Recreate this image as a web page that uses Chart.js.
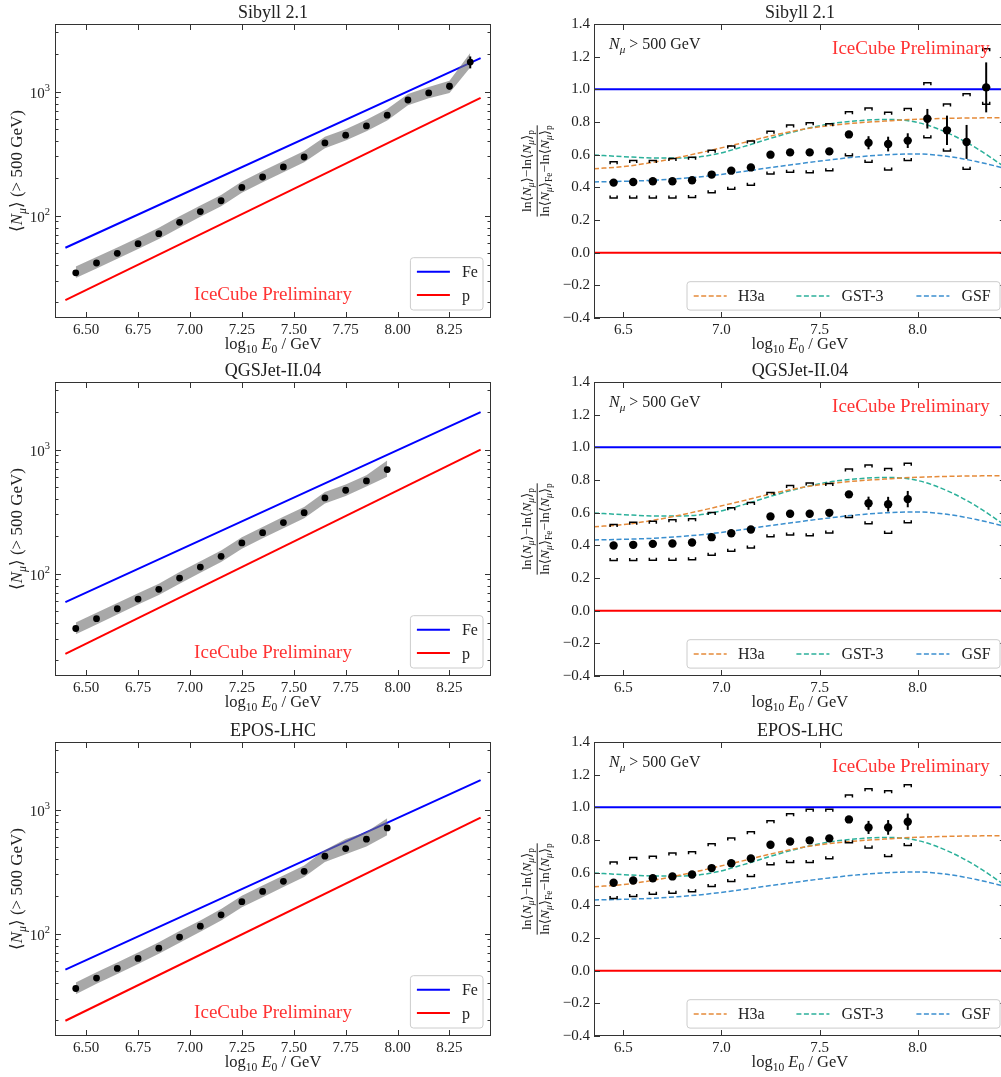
<!DOCTYPE html>
<html>
<head>
<meta charset="utf-8">
<script src="https://cdn.jsdelivr.net/npm/chart.js@4.4.1/dist/chart.umd.min.js"></script>
<style>
  html, body { margin: 0; padding: 0; background: #fff; overflow: hidden; width: 1001px; height: 1077px; }
  .cell { position: absolute; }
</style>
</head>
<body>
<div class="cell" style="left:0;top:0"><canvas id="sibyllLeft" width="500" height="359"></canvas></div>
<div class="cell" style="left:500px;top:0"><canvas id="sibyllRight" width="510" height="359"></canvas></div>
<div class="cell" style="left:0;top:358px"><canvas id="qgsLeft" width="500" height="359"></canvas></div>
<div class="cell" style="left:500px;top:358px"><canvas id="qgsRight" width="510" height="359"></canvas></div>
<div class="cell" style="left:0;top:718px"><canvas id="eposLeft" width="500" height="359"></canvas></div>
<div class="cell" style="left:500px;top:718px"><canvas id="eposRight" width="510" height="359"></canvas></div>
<script>
// energy bins (log10 E0 / GeV)
const energyBins = [6.45, 6.55, 6.65, 6.75, 6.85, 6.95, 7.05, 7.15, 7.25, 7.35, 7.45, 7.55, 7.65, 7.75, 7.85, 7.95, 8.05, 8.15, 8.25, 8.35];
const lineEnergy = [6.4, 8.4];

// left column: <N_mu> (> 500 GeV)
const sibyllNmu    = [34.7, 41.6, 49.8, 59.5, 71.6, 88.5, 108, 132, 169, 205, 247, 297, 386, 445, 529, 645, 855, 975, 1104, 1727];
const sibyllNmuErr = [0, 0, 0, 0, 0, 0, 0, 0, 0, 0, 0, 0, 0, 0, 0, 0, 0, 0, 70, 190];
const sibyllBandLo = [31.5, 37.5, 45, 54, 65, 80, 98, 119, 153, 186, 224, 270, 350, 404, 478, 584, 775, 885, 975, 1560];
const sibyllBandHi = [39, 46.5, 55.5, 66.5, 80, 99, 121, 147, 189, 229, 276, 332, 432, 497, 592, 722, 955, 1090, 1220, 2040];
const sibyllFe = [55.2, 1857];
const sibyllP  = [20.9, 889];

const qgsNmu    = [36.2, 43.4, 52.2, 62.5, 74.8, 92.3, 113, 138, 177, 214, 258, 310, 408, 470, 559, 690];
const qgsBandLo = [32.5, 39, 47, 56.5, 67.5, 83, 102, 124, 159, 193, 232, 280, 367, 423, 503, 605];
const qgsBandHi = [40.5, 48.5, 58, 69.5, 83, 103, 126, 154, 197, 238, 287, 345, 455, 524, 622, 815];
const qgsFe = [59.1, 2000];
const qgsP  = [22.6, 1000];

const eposNmu    = [36.2, 43.9, 52.5, 63.2, 76.5, 94, 115, 142, 181, 219, 264, 318, 421, 485, 577, 711];
const eposBandLo = [32.5, 39.5, 47.3, 57, 69, 84.5, 103.5, 128, 163, 197, 238, 286, 378, 437, 505, 620];
const eposBandHi = [40.5, 49, 58.5, 70.5, 85.5, 105, 128, 158, 202, 244, 294, 354, 472, 580, 660, 850];
const eposFe = [51.3, 1725];
const eposP  = [19.9, 861];

// right column: z = (ln<N> - ln<N>_p) / (ln<N>_Fe - ln<N>_p)
const sibyllZ     = [0.429, 0.433, 0.437, 0.437, 0.443, 0.478, 0.502, 0.522, 0.600, 0.614, 0.614, 0.620, 0.724, 0.673, 0.665, 0.686, 0.820, 0.749, 0.678, 1.012];
const sibyllZStat = [0.01, 0.01, 0.01, 0.01, 0.01, 0.01, 0.01, 0.01, 0.012, 0.012, 0.014, 0.016, 0.02, 0.04, 0.045, 0.045, 0.06, 0.09, 0.104, 0.153];
const sibyllSysHi = [0.557, 0.565, 0.565, 0.576, 0.584, 0.627, 0.653, 0.684, 0.743, 0.782, 0.796, 0.790, 0.863, 0.886, 0.859, 0.882, 1.041, 0.910, 0.973, 1.249];
const sibyllSysLo = [0.335, 0.335, 0.335, 0.335, 0.337, 0.367, 0.388, 0.412, 0.482, 0.492, 0.490, 0.502, 0.594, 0.553, 0.506, 0.565, 0.704, 0.622, 0.510, 0.908];

const qgsZ     = [0.399, 0.403, 0.409, 0.411, 0.417, 0.450, 0.474, 0.497, 0.577, 0.593, 0.593, 0.599, 0.712, 0.658, 0.652, 0.683];
const qgsZStat = [0.01, 0.01, 0.01, 0.01, 0.01, 0.01, 0.01, 0.01, 0.012, 0.012, 0.014, 0.016, 0.02, 0.04, 0.045, 0.05];
const qgsSysHi = [0.528, 0.542, 0.548, 0.556, 0.562, 0.601, 0.630, 0.663, 0.724, 0.767, 0.781, 0.779, 0.867, 0.892, 0.871, 0.902];
const qgsSysLo = [0.307, 0.307, 0.309, 0.309, 0.311, 0.339, 0.364, 0.384, 0.452, 0.464, 0.458, 0.476, 0.571, 0.532, 0.474, 0.538];

const eposZ     = [0.538, 0.552, 0.566, 0.577, 0.589, 0.628, 0.658, 0.687, 0.771, 0.791, 0.798, 0.810, 0.926, 0.877, 0.877, 0.912];
const eposZStat = [0.01, 0.01, 0.01, 0.01, 0.01, 0.01, 0.01, 0.01, 0.012, 0.012, 0.014, 0.016, 0.02, 0.04, 0.045, 0.05];
const eposSysHi = [0.665, 0.693, 0.701, 0.720, 0.728, 0.777, 0.812, 0.851, 0.918, 0.961, 0.988, 0.988, 1.075, 1.114, 1.102, 1.139];
const eposSysLo = [0.442, 0.454, 0.468, 0.474, 0.483, 0.515, 0.546, 0.577, 0.648, 0.663, 0.663, 0.685, 0.783, 0.751, 0.699, 0.767];

// composition model expectations
const modelEnergy = [6.35, 6.5, 6.65, 6.8, 6.95, 7.1, 7.25, 7.4, 7.55, 7.7, 7.85, 8.0, 8.15, 8.3, 8.45];
const h3a  = [0.514, 0.527, 0.553, 0.588, 0.628, 0.670, 0.714, 0.752, 0.778, 0.795, 0.807, 0.817, 0.822, 0.825, 0.826];
const gst3 = [0.598, 0.588, 0.580, 0.580, 0.598, 0.645, 0.700, 0.750, 0.788, 0.808, 0.816, 0.797, 0.735, 0.640, 0.520];
const gsf  = [0.433, 0.437, 0.443, 0.455, 0.472, 0.495, 0.521, 0.545, 0.568, 0.587, 0.600, 0.604, 0.590, 0.558, 0.515];
const feRef = 1.0;
const pRef = 0.0;

// axes
const leftXTicks = [6.5, 6.75, 7.0, 7.25, 7.5, 7.75, 8.0, 8.25];
const rightXTicks = [6.5, 7.0, 7.5, 8.0];
const rightYTicks = [-0.4, -0.2, 0, 0.2, 0.4, 0.6, 0.8, 1.0, 1.2, 1.4];
const logMajorTicks = [100, 1000];
const X_MIN = 6.35, X_MAX = 8.45;
const NMU_MIN = 15, NMU_MAX = 3500;

const FONT = '"Liberation Serif", "DejaVu Serif", serif';
const TXT = '#222';
const SPINE = '#333';
const RED_TEXT = '#ff3333';
const H3A_COLOR = '#e58b3a';
const GST_COLOR = '#2bb09a';
const GSF_COLOR = '#3b8fcf';

function pts(xs, ys) {
  return ys.map((v, i) => ({ x: xs[i], y: v }));
}

// tiny mathtext: parts = [[text, style]] with i = italic, s = subscript, p = superscript
function layoutMath(ctx, parts, size) {
  let w = 0;
  const runs = parts.map(([t, st = '']) => {
    const small = st.includes('s') || st.includes('p');
    const fs = small ? size * 0.7 : size;
    const font = (st.includes('i') ? 'italic ' : '') + fs + 'px ' + FONT;
    ctx.font = font;
    const r = { t, font, x: w, dy: st.includes('s') ? size * 0.22 : (st.includes('p') ? -size * 0.42 : 0) };
    w += ctx.measureText(t).width;
    return r;
  });
  return { runs, w };
}

function drawMath(ctx, parts, x, y, size, align, color) {
  const { runs, w } = layoutMath(ctx, parts, size);
  const x0 = align === 'center' ? x - w / 2 : (align === 'right' ? x - w : x);
  ctx.fillStyle = color || TXT;
  ctx.textAlign = 'left';
  ctx.textBaseline = 'alphabetic';
  runs.forEach(r => {
    ctx.font = r.font;
    ctx.fillText(r.t, x0 + r.x, y + r.dy);
  });
  return w;
}

function line(ctx, x1, y1, x2, y2) {
  ctx.beginPath();
  ctx.moveTo(x1, y1);
  ctx.lineTo(x2, y2);
  ctx.stroke();
}

function legendBox(ctx, x, y, w, h) {
  const r = 3;
  ctx.beginPath();
  ctx.moveTo(x + r, y);
  ctx.arcTo(x + w, y, x + w, y + h, r);
  ctx.arcTo(x + w, y + h, x, y + h, r);
  ctx.arcTo(x, y + h, x, y, r);
  ctx.arcTo(x, y, x + w, y, r);
  ctx.closePath();
  ctx.fillStyle = 'rgba(255,255,255,0.8)';
  ctx.fill();
  ctx.strokeStyle = '#cccccc';
  ctx.lineWidth = 1;
  ctx.stroke();
}

// spines and inward ticks on all four sides
function drawFrame(chart, yMajor, yMinor) {
  const { ctx, chartArea: a, scales: { x, y } } = chart;
  ctx.save();
  ctx.strokeStyle = SPINE;
  ctx.lineWidth = 1;
  ctx.strokeRect(a.left + 0.5, a.top + 0.5, a.width - 1, a.height - 1);
  chart.options.xTickValues.forEach(v => {
    const px = Math.round(x.getPixelForValue(v)) + 0.5;
    line(ctx, px, a.bottom, px, a.bottom - 6);
    line(ctx, px, a.top, px, a.top + 6);
  });
  yMajor.forEach(v => {
    const py = Math.round(y.getPixelForValue(v)) + 0.5;
    line(ctx, a.left, py, a.left + 6, py);
    line(ctx, a.right, py, a.right - 6, py);
  });
  yMinor.forEach(v => {
    const py = Math.round(y.getPixelForValue(v)) + 0.5;
    line(ctx, a.left, py, a.left + 3.5, py);
    line(ctx, a.right, py, a.right - 3.5, py);
  });
  ctx.restore();
}

const xLabelParts = [['log'], ['10', 's'], [' '], ['E', 'i'], ['0', 's'], [' / GeV']];

function leftDecor(title, xs, nmu, nmuErr) {
  return {
    id: 'leftDecor',
    afterDatasetsDraw(chart) {
      const { ctx, scales: { x, y } } = chart;
      ctx.save();
      ctx.strokeStyle = '#000';
      ctx.lineWidth = 2;
      nmu.forEach((v, i) => {
        const e = nmuErr ? nmuErr[i] : 0;
        if (!e) return;
        const px = x.getPixelForValue(xs[i]);
        line(ctx, px, y.getPixelForValue(v - e), px, y.getPixelForValue(v + e));
      });
      ctx.restore();
    },
    afterDraw(chart) {
      const { ctx, chartArea: a, scales: { y } } = chart;
      const minor = [];
      for (let d = 10; d <= 1000; d *= 10) {
        for (let k = 2; k <= 9; k++) {
          const v = k * d;
          if (v > NMU_MIN && v < NMU_MAX) minor.push(v);
        }
      }
      drawFrame(chart, logMajorTicks, minor);
      ctx.save();
      logMajorTicks.forEach(v => {
        const py = y.getPixelForValue(v);
        drawMath(ctx, [['10'], [String(Math.round(Math.log10(v))), 'p']], a.left - 5, py + 6, 15, 'right');
      });
      const cx = a.left + a.width / 2;
      drawMath(ctx, [[title]], cx, a.top - 6, 18, 'center');
      drawMath(ctx, xLabelParts, cx, a.bottom + 31, 16.5, 'center');
      ctx.save();
      ctx.translate(22, a.top + a.height / 2);
      ctx.rotate(-Math.PI / 2);
      drawMath(ctx, [['\u27e8'], ['N', 'i'], ['\u03bc', 'is'], ['\u27e9 (> 500 GeV)']], 0, 0, 17, 'center');
      ctx.restore();
      drawMath(ctx, [['IceCube Preliminary']], cx, a.bottom - 18.5, 19, 'center', RED_TEXT);
      // legend
      const bw = 72.6, bh = 52.3;
      const bx = a.right - 8 - bw, by = a.bottom - 8 - bh;
      legendBox(ctx, bx, by, bw, bh);
      [['Fe', '#0000ff', 14], ['p', '#ff0000', 37.3]].forEach(([lab, col, dy]) => {
        ctx.strokeStyle = col;
        ctx.lineWidth = 2;
        line(ctx, bx + 6.5, by + dy, bx + 39.5, by + dy);
        drawMath(ctx, [[lab]], bx + 51.5, by + dy + 5.5, 16, 'left');
      });
      ctx.restore();
    }
  };
}

function rightDecor(title, xs, z, zStat, sysHi, sysLo) {
  return {
    id: 'rightDecor',
    afterDatasetsDraw(chart) {
      const { ctx, scales: { x, y } } = chart;
      ctx.save();
      ctx.strokeStyle = '#000';
      // systematic brackets
      ctx.lineWidth = 1.5;
      xs.forEach((e, i) => {
        const px = x.getPixelForValue(e);
        const hi = y.getPixelForValue(sysHi[i]);
        const lo = y.getPixelForValue(sysLo[i]);
        ctx.beginPath();
        ctx.moveTo(px - 3.5, hi + 2.5); ctx.lineTo(px - 3.5, hi); ctx.lineTo(px + 3.5, hi); ctx.lineTo(px + 3.5, hi + 2.5);
        ctx.moveTo(px - 3.5, lo - 2.5); ctx.lineTo(px - 3.5, lo); ctx.lineTo(px + 3.5, lo); ctx.lineTo(px + 3.5, lo - 2.5);
        ctx.stroke();
      });
      // statistical error bars
      ctx.lineWidth = 2;
      xs.forEach((e, i) => {
        const px = x.getPixelForValue(e);
        line(ctx, px, y.getPixelForValue(z[i] - zStat[i]), px, y.getPixelForValue(z[i] + zStat[i]));
      });
      ctx.restore();
    },
    afterDraw(chart) {
      const { ctx, chartArea: a } = chart;
      drawFrame(chart, rightYTicks, []);
      ctx.save();
      const cx = a.left + a.width / 2;
      drawMath(ctx, [[title]], cx, a.top - 6, 18, 'center');
      drawMath(ctx, xLabelParts, cx, a.bottom + 31, 16.5, 'center');
      // fraction y label
      ctx.save();
      ctx.translate(36.7, a.top + a.height / 2);
      ctx.rotate(-Math.PI / 2);
      const num = [['ln\u27e8'], ['N', 'i'], ['\u03bc', 'is'], ['\u27e9\u2212ln\u27e8'], ['N', 'i'], ['\u03bc', 'is'], ['\u27e9'], ['p', 's']];
      const den = [['ln\u27e8'], ['N', 'i'], ['\u03bc', 'is'], ['\u27e9'], ['Fe', 's'], ['\u2212ln\u27e8'], ['N', 'i'], ['\u03bc', 'is'], ['\u27e9'], ['p', 's']];
      const wn = drawMath(ctx, num, 0, -6, 13.5, 'center');
      const wd = drawMath(ctx, den, 0, 12.5, 13.5, 'center');
      const bw = Math.max(wn, wd);
      ctx.strokeStyle = TXT;
      ctx.lineWidth = 1;
      line(ctx, -bw / 2, 0.5, bw / 2, 0.5);
      ctx.restore();
      drawMath(ctx, [['N', 'i'], ['\u03bc', 'is'], [' > 500 GeV']], a.left + 15, a.top + 25, 16, 'left');
      drawMath(ctx, [['IceCube Preliminary']], a.right - 16, a.top + 30, 19, 'right', RED_TEXT);
      // legend
      const bx = a.left + 93, by = a.bottom - 36.3, bw2 = 313, bh = 28.4;
      legendBox(ctx, bx, by, bw2, bh);
      [['H3a', H3A_COLOR, 6.7, 51], ['GST-3', GST_COLOR, 109.4, 154.4], ['GSF', GSF_COLOR, 229.4, 274.4]].forEach(([lab, col, lx, tx]) => {
        ctx.strokeStyle = col;
        ctx.lineWidth = 1.5;
        ctx.setLineDash([5, 2.5]);
        line(ctx, bx + lx, by + 14.2, bx + lx + 33, by + 14.2);
        ctx.setLineDash([]);
        drawMath(ctx, [[lab]], bx + tx, by + 19.5, 16, 'left');
      });
      ctx.restore();
    }
  };
}

function scaleX(ticks, fmt) {
  return {
    type: 'linear', min: X_MIN, max: X_MAX,
    grid: { display: false, drawTicks: false },
    border: { display: false },
    afterBuildTicks: s => { s.ticks = ticks.map(v => ({ value: v })); },
    afterFit: s => { s.height = 41; },
    ticks: { callback: fmt, padding: 3, color: TXT, font: { family: FONT, size: 15 }, maxRotation: 0, autoSkip: false }
  };
}

function baseOptions(xScale, yScale, rightPad, xTickValues) {
  return {
    responsive: false,
    animation: false,
    events: [],
    xTickValues,
    layout: { padding: { top: 24, right: rightPad, bottom: 0, left: 0 } },
    plugins: { legend: { display: false }, tooltip: { enabled: false }, title: { display: false } },
    scales: { x: xScale, y: yScale }
  };
}

function leftPanel(id, title, nmu, nmuErr, bandLo, bandHi, fe, p) {
  const xs = energyBins.slice(0, nmu.length);
  new Chart(document.getElementById(id), {
    type: 'scatter',
    data: {
      datasets: [
        { label: 'data', data: pts(xs, nmu), pointRadius: 3.4, backgroundColor: '#000', borderWidth: 0 },
        { label: 'band hi', data: pts(xs, bandHi), showLine: true, borderWidth: 0, pointRadius: 0, fill: '+1', backgroundColor: 'rgba(115,115,115,0.62)' },
        { label: 'band lo', data: pts(xs, bandLo), showLine: true, borderWidth: 0, pointRadius: 0, fill: false },
        { label: 'Fe', data: pts(lineEnergy, fe), showLine: true, borderColor: '#0000ff', borderWidth: 2, pointRadius: 0 },
        { label: 'p', data: pts(lineEnergy, p), showLine: true, borderColor: '#ff0000', borderWidth: 2, pointRadius: 0 }
      ]
    },
    options: baseOptions(
      scaleX(leftXTicks, v => v.toFixed(2)),
      {
        type: 'logarithmic', min: NMU_MIN, max: NMU_MAX,
        grid: { display: false, drawTicks: false },
        border: { display: false },
        ticks: { display: false },
        afterFit: s => { s.width = 55; }
      },
      9, leftXTicks
    ),
    plugins: [leftDecor(title, xs, nmu, nmuErr)]
  });
}

function rightPanel(id, title, z, zStat, sysHi, sysLo) {
  const xs = energyBins.slice(0, z.length);
  const dashed = (data, color) => ({
    data: pts(modelEnergy, data), showLine: true, borderColor: color, borderWidth: 1.5,
    borderDash: [5, 2.5], pointRadius: 0, cubicInterpolationMode: 'monotone'
  });
  new Chart(document.getElementById(id), {
    type: 'scatter',
    data: {
      datasets: [
        { label: 'data', data: pts(xs, z), pointRadius: 4.2, backgroundColor: '#000', borderWidth: 0 },
        Object.assign({ label: 'H3a' }, dashed(h3a, H3A_COLOR)),
        Object.assign({ label: 'GST-3' }, dashed(gst3, GST_COLOR)),
        Object.assign({ label: 'GSF' }, dashed(gsf, GSF_COLOR)),
        { label: 'Fe', data: [{ x: X_MIN, y: feRef }, { x: X_MAX, y: feRef }], showLine: true, borderColor: '#0000ff', borderWidth: 2, pointRadius: 0 },
        { label: 'p', data: [{ x: X_MIN, y: pRef }, { x: X_MAX, y: pRef }], showLine: true, borderColor: '#ff0000', borderWidth: 2, pointRadius: 0 }
      ]
    },
    options: baseOptions(
      scaleX(rightXTicks, v => v.toFixed(1)),
      {
        type: 'linear', min: -0.4, max: 1.4,
        grid: { display: false, drawTicks: false },
        border: { display: false },
        afterBuildTicks: s => { s.ticks = rightYTicks.map(v => ({ value: v })); },
        afterFit: s => { s.width = 94; },
        ticks: { callback: v => v.toFixed(1).replace('-', '\u2212'), padding: 4, color: TXT, font: { family: FONT, size: 15 } }
      },
      4, rightXTicks
    ),
    plugins: [rightDecor(title, xs, z, zStat, sysHi, sysLo)]
  });
}

leftPanel('sibyllLeft', 'Sibyll 2.1', sibyllNmu, sibyllNmuErr, sibyllBandLo, sibyllBandHi, sibyllFe, sibyllP);
leftPanel('qgsLeft', 'QGSJet-II.04', qgsNmu, null, qgsBandLo, qgsBandHi, qgsFe, qgsP);
leftPanel('eposLeft', 'EPOS-LHC', eposNmu, null, eposBandLo, eposBandHi, eposFe, eposP);
rightPanel('sibyllRight', 'Sibyll 2.1', sibyllZ, sibyllZStat, sibyllSysHi, sibyllSysLo);
rightPanel('qgsRight', 'QGSJet-II.04', qgsZ, qgsZStat, qgsSysHi, qgsSysLo);
rightPanel('eposRight', 'EPOS-LHC', eposZ, eposZStat, eposSysHi, eposSysLo);
</script>
</body>
</html>
